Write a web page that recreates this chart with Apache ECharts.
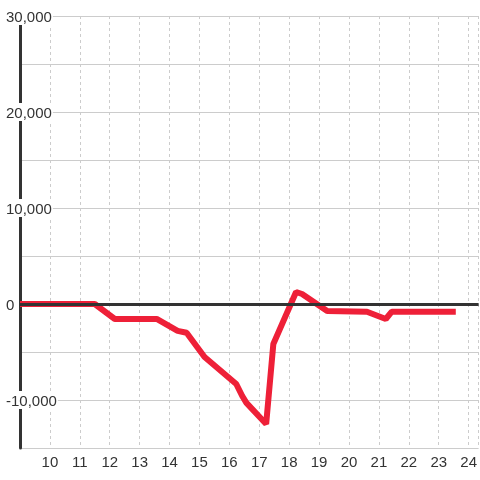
<!DOCTYPE html>
<html>
<head>
<meta charset="utf-8">
<style>
  html, body { margin: 0; padding: 0; background: #fff; }
  #chart { width: 480px; height: 480px; }
</style>
<script src="https://cdn.jsdelivr.net/npm/echarts@6/dist/echarts.min.js"></script>
</head>
<body>
<div id="chart"></div>
<script>
// hour of day vs value
var hours = [9, 11.5, 12.17, 13.57, 14.27, 14.57, 15.17, 16.23, 16.43, 16.57, 17.23, 17.47, 18.23, 18.43, 19.27, 20.6, 21.23, 21.43, 23.57];
var values = [0, 0, -1560, -1560, -2800, -3000, -5520, -8330, -9580, -10300, -12500, -4170, 1250, 1040, -730, -800, -1560, -800, -800];
var yTicks = [-10000, 0, 10000, 20000, 30000];

var points = hours.map(function (h, i) { return [h, values[i]]; });

var myChart = echarts.init(document.getElementById('chart'));
var option = {
    animation: false,
    grid: {
        left: 20,
        right: 0,
        top: 16,
        bottom: 32
    },
    xAxis: {
        type: 'value',
        min: 9,
        max: 24.333,
        interval: 1,
        axisLine: { show: false },
        axisTick: { show: false },
        axisLabel: {
            showMinLabel: false,
            showMaxLabel: false,
            color: '#333',
            fontSize: 15,
            fontFamily: 'Liberation Sans, Arial, sans-serif',
            margin: 7
        },
        splitLine: {
            show: true,
            lineStyle: { color: '#ccc', width: 1, type: [3, 3] }
        }
    },
    yAxis: {
        type: 'value',
        min: -15000,
        max: 30000,
        interval: 5000,
        axisLine: { show: true, lineStyle: { color: '#333', width: 3 } },
        axisTick: { show: false },
        axisLabel: {
            align: 'left',
            margin: 14,
            formatter: function (v) {
                if (yTicks.indexOf(v) < 0) return '';
                return '{a|' + v.toLocaleString('en-US') + '}';
            },
            rich: {
                a: {
                    color: '#333',
                    fontSize: 15,
                    fontFamily: 'Liberation Sans, Arial, sans-serif',
                    backgroundColor: '#fff',
                    padding: [3, 1, 0, 0]
                }
            }
        },
        splitLine: {
            show: true,
            lineStyle: { color: '#ccc', width: 1 }
        }
    },
    series: [
        {
            type: 'line',
            data: points,
            symbol: 'none',
            lineStyle: { color: '#ee2038', width: 6 },
            markLine: {
                silent: true,
                symbol: 'none',
                label: { show: false },
                lineStyle: { color: '#333', width: 3, type: 'solid' },
                data: [{ yAxis: 0 }]
            }
        }
    ]
};
myChart.setOption(option);
window.addEventListener('resize', function () {
    myChart.resize();
});
</script>
</body>
</html>
